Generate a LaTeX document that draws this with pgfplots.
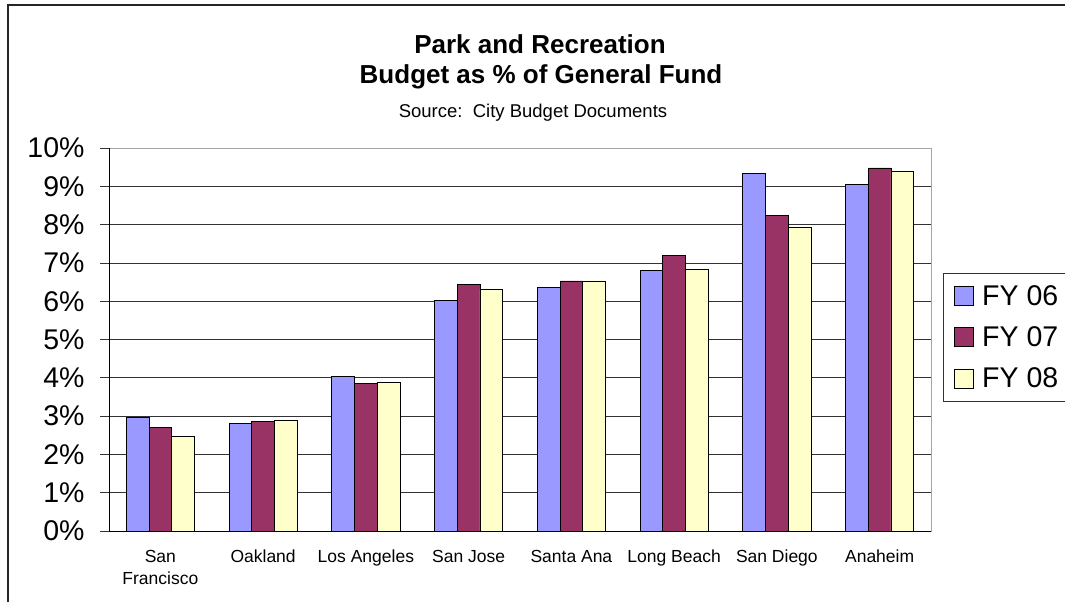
\documentclass[border=0pt]{standalone}
\usepackage{pgfplots}
\pgfplotsset{compat=1.18}
\usepackage{fontspec}
\setmainfont{Liberation Sans}
\definecolor{fyA}{HTML}{9999FF}
\definecolor{fyB}{HTML}{993366}
\definecolor{fyC}{HTML}{FFFFCC}
\begin{document}
\begin{tikzpicture}[x=1pt,y=1pt]
\useasboundingbox (0,0) rectangle (1065,-602);
\clip (0,0) rectangle (1065,-602);
\fill[white] (0,0) rectangle (1065,-602);
\draw[line width=1.5pt, black!85] (8,-602) -- (8,-5) -- (1065,-5);
\node[font=\bfseries\fontsize{26}{30}\selectfont] at (540,-44) {Park and Recreation};
\node[font=\bfseries\fontsize{26}{30}\selectfont] at (541,-77) {Budget as \% of General Fund};
\node[font=\fontsize{18.5}{22}\selectfont] at (533,-113) {Source:\ \ City Budget Documents};
\begin{axis}[
  at={(109pt,-531pt)}, anchor=south west,
  scale only axis, width=822pt, height=383pt,
  xmin=-0.5, xmax=7.5, ymin=0, ymax=10,
  ybar=0pt, bar width=22.7pt,
  axis line style={draw=gray!70, line width=1pt},
  ytick={0,1,...,10},
  ytick pos=left,
  yticklabels={0\%,1\%,2\%,3\%,4\%,5\%,6\%,7\%,8\%,9\%,10\%},
  yticklabel style={font=\fontsize{28.5}{34}\selectfont, anchor=east, xshift=-12pt},
  ymajorgrids, grid style={black!80, line width=0.8pt},
  tick align=outside,
  ytick style={black!80, line width=0.8pt},
  major tick length=9pt,
  xtick={0,...,7},
  xtick pos=bottom,
  xticklabels={\strut San\\\strut Francisco,\strut Oakland,\strut Los Angeles,\strut San Jose,\strut Santa Ana,\strut Long Beach,\strut San Diego,\strut Anaheim},
  xticklabel style={font=\fontsize{17.5}{22}\selectfont, align=center, anchor=north, yshift=-4pt},
  x tick style={draw=none},
  minor xtick={-0.5,0.5,...,7.5},
  minor x tick style={black!70, line width=0.8pt},
  minor tick length=7pt,
  legend style={at={(rel axis cs:1.0146,0.674)}, anchor=north west,
    draw=black!80, line width=0.8pt, fill=white,
    font=\fontsize{28.5}{34}\selectfont, inner xsep=11pt, inner ysep=10pt,
    row sep=16pt, nodes={inner xsep=3pt}},
  legend cell align=left,
]
\addplot[fill=fyA, draw=black, line width=0.8pt, legend image code/.code={\draw[fill=fyA,draw=black,line width=0.8pt] (0pt,-9.5pt) rectangle (19pt,9.5pt); \path (24pt,0pt);}]
 coordinates {(0,2.97) (1,2.80) (2,4.04) (3,6.01) (4,6.37) (5,6.80) (6,9.34) (7,9.06)};
\addplot[fill=fyB, draw=black, line width=0.8pt, legend image code/.code={\draw[fill=fyB,draw=black,line width=0.8pt] (0pt,-9.5pt) rectangle (19pt,9.5pt); \path (24pt,0pt);}]
 coordinates {(0,2.71) (1,2.86) (2,3.85) (3,6.43) (4,6.53) (5,7.19) (6,8.24) (7,9.48)};
\addplot[fill=fyC, draw=black, line width=0.8pt, legend image code/.code={\draw[fill=fyC,draw=black,line width=0.8pt] (0pt,-9.5pt) rectangle (19pt,9.5pt); \path (24pt,0pt);}]
 coordinates {(0,2.47) (1,2.90) (2,3.88) (3,6.31) (4,6.53) (5,6.84) (6,7.92) (7,9.40)};
\legend{FY 06\hspace{12pt},FY 07\hspace{12pt},FY 08\hspace{12pt}}
\draw[black, line width=1pt] (rel axis cs:0,1) -- (rel axis cs:0,0) -- (rel axis cs:1,0);
\end{axis}
\end{tikzpicture}
\end{document}
